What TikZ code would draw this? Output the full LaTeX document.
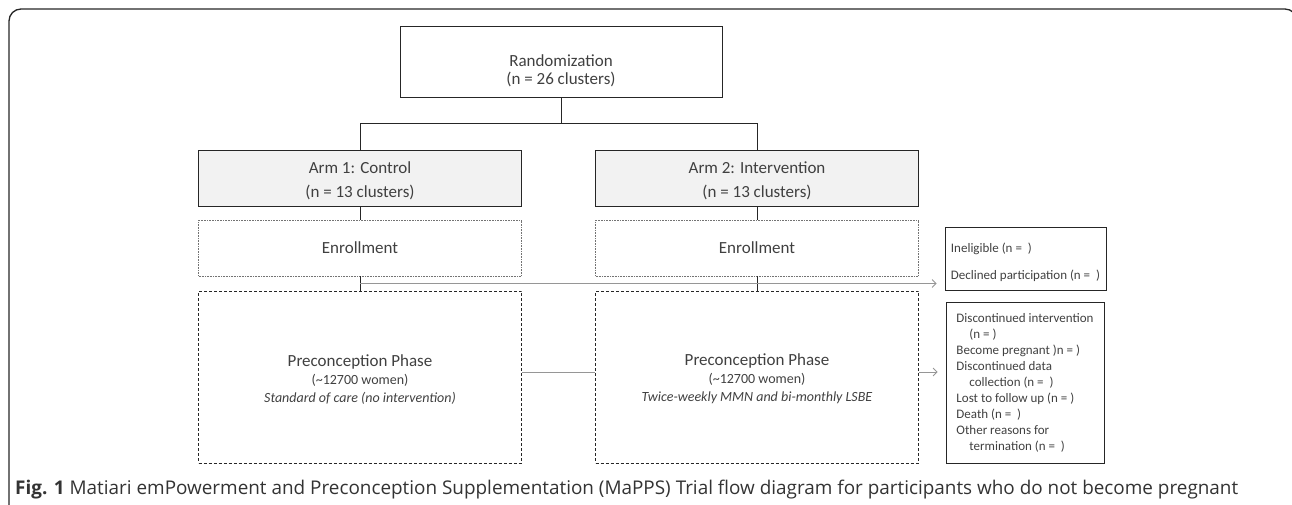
\documentclass[tikz,border=0pt]{standalone}
\usepackage{fontspec}
\setmainfont{Carlito}
\newfontfamily\captionfont{Open Sans}
\usepackage{xcolor}
\definecolor{inkgray}{RGB}{64, 64, 64}
\definecolor{armfill}{RGB}{242, 242, 242}
\definecolor{flowgray}{RGB}{150, 150, 150}
\usepackage{tikz}
\usetikzlibrary{
    arrows.meta,
    positioning,
    calc
}
% pushes the first line of a box text down
\newcommand{\textdrop}[1]{\rule{0pt}{#1}}

\begin{document}
\begin{tikzpicture}[
    x=1pt, y=-1pt,
    box/.style={draw=black!85, line width=0.8pt, inner sep=0pt, align=center, text=inkgray, font=\fontsize{17}{18}\selectfont},
    armbox/.style={box, fill=armfill, minimum width=323pt, minimum height=56pt},
    enrolbox/.style={box, draw=black!55, dash pattern=on 0.8pt off 0.8pt, minimum width=323pt, minimum height=56pt},
    phasebox/.style={box, dash pattern=on 3pt off 2pt, minimum width=323pt, minimum height=172pt},
    sidebox/.style={box, align=left, inner xsep=5pt, font=\fontsize{13}{16}\selectfont},
    link/.style={draw=black!85, line width=0.8pt},
    flow/.style={draw=flowgray, line width=0.8pt, -{Straight Barb[length=4pt, width=8pt]}, shorten >=8pt}
]
\useasboundingbox (0,0) rectangle (1292,505);

% ==================== FRAME ====================
\draw[black!85, line width=1.3pt, rounded corners=12pt] (9,9) rectangle (1297,520);

% ==================== RANDOMIZATION AND ARMS ====================
\node[box, minimum width=322pt, minimum height=71pt] (rand) at (561, 61.5) {
    \textdrop{31pt}Randomization\\
    (n = 26 clusters)
};

\node[armbox] (arm1) at (360, 178) {
    \textdrop{17.5pt}Arm 1: Control\\[6pt]
    (n = 13 clusters)
};

\node[armbox] (arm2) at (757, 178) {
    \textdrop{17.5pt}Arm 2: Intervention\\[6pt]
    (n = 13 clusters)
};

\draw[link] (rand.south) -- ++(0,26) coordinate (split);
\draw[link] (split) -| (arm1.north);
\draw[link] (split) -| (arm2.north);

% ==================== ENROLLMENT ====================
\node[enrolbox] (enrol1) at (360, 248) {\textdrop{12pt}Enrollment};
\node[enrolbox] (enrol2) at (757, 248) {\textdrop{12pt}Enrollment};

\draw[link] (arm1) -- (enrol1);
\draw[link] (arm2) -- (enrol2);

% ==================== PRECONCEPTION PHASE ====================
\node[phasebox] (phase1) at (360, 377) {
    \textdrop{16pt}Preconception Phase\\
    {\fontsize{14}{18}\selectfont (\textasciitilde12700 women)}\\
    {\fontsize{14}{18}\selectfont\itshape Standard of care (no intervention)}
};

\node[phasebox] (phase2) at (757, 377) {
    \textdrop{16pt}Preconception Phase\\
    {\fontsize{14}{18}\selectfont (\textasciitilde12700 women)}\\
    {\fontsize{14}{18}\selectfont\itshape Twice-weekly MMN and bi-monthly LSBE}
};

\draw[link] (enrol1) -- (phase1);
\draw[link] (enrol2) -- (phase2);
\draw[link, draw=flowgray] ([yshift=5pt]phase1.east) -- ([yshift=5pt]phase2.west);

% ==================== EXCLUSIONS ====================
\node[sidebox, minimum width=161pt, minimum height=63pt] (excl1) at (1025.5, 258.5) {
    \textdrop{17pt}Ineligible (n = \ )\\[11pt]
    Declined participation (n = \ )
};

\node[sidebox, minimum width=158pt, minimum height=161pt] (excl2) at (1025, 382.5) {
    Discontinued intervention\\
    \hspace*{13pt}(n = )\\
    Become pregnant )n = )\\
    Discontinued data\\
    \hspace*{13pt}collection (n = \ )\\
    Lost to follow up (n = )\\
    Death (n = \ )\\
    Other reasons for\\
    \hspace*{13pt}termination (n = \ )
};

\coordinate (tap) at ($(enrol1.south)!0.5!(phase1.north)$);
\draw[flow] (tap) -- (tap -| excl1.west);
\draw[flow] ([yshift=5pt]phase2.east) -- ([yshift=5pt]phase2.east -| excl2.west);

% ==================== CAPTION ====================
\node[anchor=base west, inner sep=0pt, text=black!80, font=\captionfont\fontsize{18.9}{22}\selectfont] (caption) at (15, 494) {
    \textbf{Fig. 1} Matiari emPowerment and Preconception Supplementation (MaPPS) Trial flow diagram for participants who do not become pregnant
};

\end{tikzpicture}
\end{document}
